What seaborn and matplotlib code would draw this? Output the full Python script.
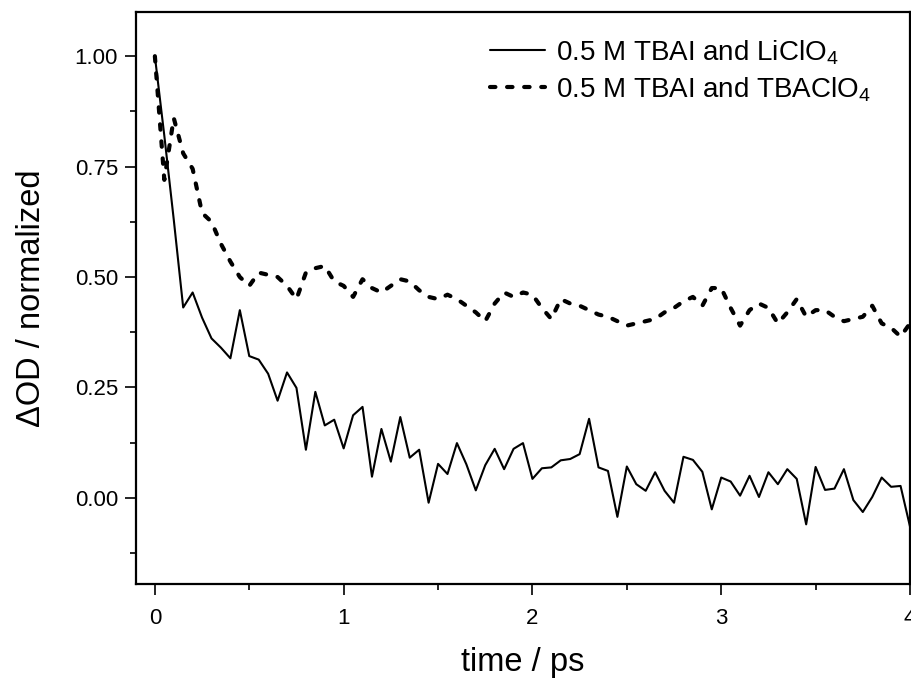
import matplotlib
matplotlib.use("Agg")
import matplotlib.pyplot as plt
import seaborn as sns
import pandas as pd
from matplotlib.ticker import MultipleLocator

time_ps = [0.00, 0.05, 0.10, 0.15, 0.20, 0.25, 0.30, 0.35, 0.40, 0.45,
           0.50, 0.55, 0.60, 0.65, 0.70, 0.75, 0.80, 0.85, 0.90, 0.95,
           1.00, 1.05, 1.10, 1.15, 1.20, 1.25, 1.30, 1.35, 1.40, 1.45,
           1.50, 1.55, 1.60, 1.65, 1.70, 1.75, 1.80, 1.85, 1.90, 1.95,
           2.00, 2.05, 2.10, 2.15, 2.20, 2.25, 2.30, 2.35, 2.40, 2.45,
           2.50, 2.55, 2.60, 2.65, 2.70, 2.75, 2.80, 2.85, 2.90, 2.95,
           3.00, 3.05, 3.10, 3.15, 3.20, 3.25, 3.30, 3.35, 3.40, 3.45,
           3.50, 3.55, 3.60, 3.65, 3.70, 3.75, 3.80, 3.85, 3.90, 3.95,
           4.00]

licl_od = [1.00, 0.82, 0.63, 0.431, 0.465, 0.408, 0.361, 0.340, 0.316, 0.425,
           0.321, 0.313, 0.281, 0.220, 0.284, 0.249, 0.109, 0.240, 0.164, 0.177,
           0.112, 0.187, 0.206, 0.048, 0.156, 0.082, 0.183, 0.091, 0.109, -0.011,
           0.077, 0.054, 0.124, 0.076, 0.017, 0.074, 0.111, 0.065, 0.111, 0.124,
           0.043, 0.067, 0.069, 0.085, 0.088, 0.099, 0.179, 0.069, 0.061, -0.043,
           0.071, 0.031, 0.016, 0.058, 0.016, -0.011, 0.093, 0.086, 0.059, -0.026,
           0.046, 0.037, 0.005, 0.050, 0.002, 0.058, 0.031, 0.065, 0.043, -0.060,
           0.070, 0.018, 0.021, 0.065, -0.005, -0.032, 0.002, 0.046, 0.025, 0.027,
           -0.065]

tba_od = [1.00, 0.72, 0.86, 0.78, 0.745, 0.645, 0.625, 0.575, 0.535, 0.50,
          0.48, 0.51, 0.505, 0.50, 0.48, 0.45, 0.51, 0.52, 0.525, 0.49,
          0.48, 0.455, 0.495, 0.475, 0.465, 0.48, 0.495, 0.49, 0.47, 0.455,
          0.45, 0.46, 0.45, 0.435, 0.42, 0.40, 0.44, 0.465, 0.455, 0.465,
          0.46, 0.43, 0.405, 0.45, 0.44, 0.435, 0.425, 0.415, 0.41, 0.40,
          0.39, 0.395, 0.40, 0.405, 0.42, 0.43, 0.445, 0.455, 0.435, 0.475,
          0.475, 0.43, 0.39, 0.425, 0.44, 0.43, 0.395, 0.42, 0.45, 0.41,
          0.425, 0.425, 0.41, 0.40, 0.405, 0.41, 0.435, 0.395, 0.385, 0.365,
          0.395]

labels = ["0.5 M TBAI and LiClO$_\\mathregular{4}$",
          "0.5 M TBAI and TBAClO$_\\mathregular{4}$"]

y_ticks = [0.00, 0.25, 0.50, 0.75, 1.00]
x_ticks = [0, 1, 2, 3, 4]

sns.set_style("ticks")
plt.rcParams["font.family"] = ["Liberation Sans", "DejaVu Sans"]
plt.rcParams["text.color"] = "black"
plt.rcParams["axes.labelcolor"] = "black"
plt.rcParams["xtick.color"] = "black"
plt.rcParams["ytick.color"] = "black"

df1 = pd.DataFrame({"t": time_ps, "od": licl_od})
df2 = pd.DataFrame({"t": time_ps, "od": tba_od})

fig = plt.figure(figsize=(9.11, 6.8), dpi=100)
ax = fig.add_axes([136 / 911, (680 - 584) / 680, (910 - 136) / 911, (584 - 12) / 680])

sns.lineplot(data=df1, x="t", y="od", ax=ax, color="black", linewidth=1.5,
             label=labels[0])
sns.lineplot(data=df2, x="t", y="od", ax=ax, color="black", linewidth=3.0,
             linestyle=(0, (1.3, 2.8)), dash_capstyle="round",
             label=labels[1])

ax.set_xlim(-0.1, 4.0)
ax.set_ylim(-0.195, 1.10)
ax.set_xticks(x_ticks)
ax.set_xticklabels([str(v) for v in x_ticks])
ax.set_yticks(y_ticks)
ax.set_yticklabels([f"{v:.2f}" for v in y_ticks])
ax.xaxis.set_minor_locator(MultipleLocator(0.5))
ax.yaxis.set_minor_locator(MultipleLocator(0.125))

ax.tick_params(axis="both", which="major", direction="out", length=8, width=1.2,
               labelsize=16, top=False, right=False, colors="black")
ax.tick_params(axis="y", which="major", pad=5)
ax.tick_params(axis="x", which="major", pad=9)
ax.tick_params(axis="both", which="minor", direction="out", length=4.5, width=1.2,
               top=False, right=False, colors="black")
for s in ax.spines.values():
    s.set_visible(True)
    s.set_linewidth(1.6)
    s.set_color("black")

ax.set_xlabel("time / ps", fontsize=23.5, labelpad=13)
ax.set_ylabel("\u0394OD / normalized", fontsize=23.5, labelpad=20)

leg = ax.legend(loc="upper left", bbox_to_anchor=(0.457, 0.955), frameon=False,
                fontsize=20, handlelength=2.0, handletextpad=0.4,
                labelspacing=0.3, borderpad=0, borderaxespad=0)

fig.savefig("out.png", dpi=100, facecolor="white")
